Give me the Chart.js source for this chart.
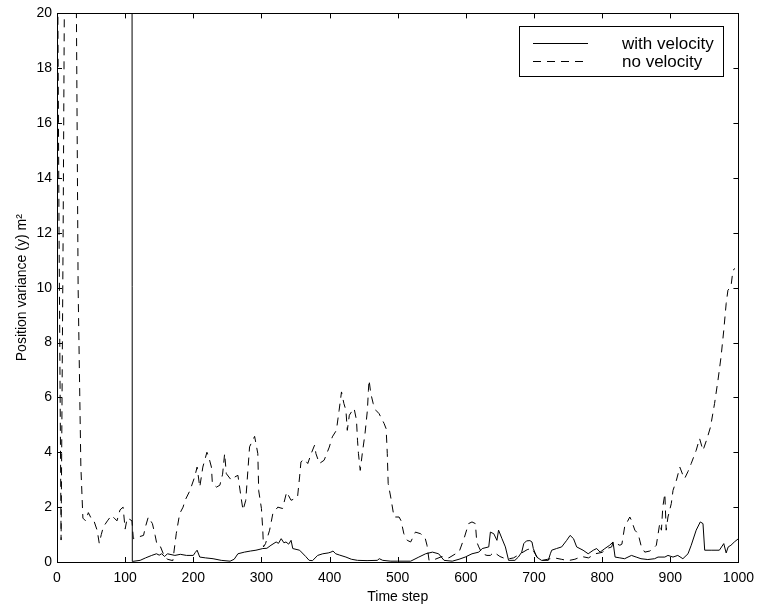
<!DOCTYPE html>
<html>
<head>
<meta charset="utf-8">
<script src="https://cdn.jsdelivr.net/npm/chart.js@4/dist/chart.umd.min.js"></script>
<style>
  html, body { margin: 0; padding: 0; background: #fff; }
  #wrap { width: 762px; height: 606px; }
</style>
</head>
<body>
<div id="wrap"><canvas id="varianceChart"></canvas></div>
<script>
// axis ticks
const xTicks = [0, 100, 200, 300, 400, 500, 600, 700, 800, 900, 1000];
const yTicks = [0, 2, 4, 6, 8, 10, 12, 14, 16, 18, 20];

const seriesLabels = ['with velocity', 'no velocity'];

// "with velocity" (solid) - time step / variance
const withVelX = [110, 110.5, 122, 130, 139, 146, 150, 153.5, 158, 162, 173, 181, 190, 200, 203, 205.6, 209.5, 218, 229, 241,
  254, 260, 265.5, 275, 284, 292, 302, 308, 314, 321.6, 325, 329, 333, 336, 340, 343.5, 346, 356, 365, 370,
  375, 382.5, 390, 398, 402, 405, 409, 415, 424, 432, 441, 455, 470, 473, 478, 490, 500, 519, 531, 541,
  551, 560, 568, 580, 590, 599, 609, 619, 624, 633.6, 636, 641, 645.6, 648, 653, 658, 662.7, 672, 677, 682,
  685, 689, 694, 697, 699, 704, 711, 721, 724, 726, 733, 740.6, 748, 753, 758, 762.6, 772, 779.5, 787, 792,
  797, 804, 811, 816, 819, 826, 833, 843, 850, 857, 867, 877, 882, 892, 896.6, 904, 911, 918.5, 926, 930.7,
  938, 944, 948, 950.5, 960, 972, 978.5, 982, 985, 989, 994, 1000];
const withVelY = [30, 0.02, 0.06, 0.15, 0.24, 0.3, 0.25, 0.3, 0.2, 0.3, 0.24, 0.28, 0.24, 0.24, 0.35, 0.43, 0.18, 0.15, 0.12, 0.06,
  0.03, 0.1, 0.3, 0.36, 0.4, 0.43, 0.49, 0.5, 0.61, 0.73, 0.68, 0.85, 0.7, 0.73, 0.65, 0.79, 0.49, 0.43, 0.2, 0.06,
  0.05, 0.24, 0.3, 0.33, 0.36, 0.4, 0.3, 0.25, 0.18, 0.1, 0.06, 0.05, 0.06, 0.12, 0.06, 0.03, 0.03, 0.03, 0.18, 0.3,
  0.36, 0.3, 0.06, 0.03, 0.1, 0.18, 0.3, 0.36, 0.49, 0.55, 1.09, 1.03, 0.79, 1.16, 0.85, 0.55, 0.06, 0.06, 0.18, 0.36,
  0.67, 0.77, 0.78, 0.73, 0.49, 0.18, 0.06, 0.06, 0.3, 0.43, 0.49, 0.55, 0.79, 0.97, 0.85, 0.55, 0.43, 0.3, 0.43, 0.49,
  0.36, 0.49, 0.61, 0.73, 0.18, 0.15, 0.12, 0.24, 0.18, 0.12, 0.09, 0.12, 0.18, 0.18, 0.24, 0.18, 0.24, 0.12, 0.3, 0.61,
  1.16, 1.46, 1.4, 0.43, 0.43, 0.43, 0.67, 0.33, 0.55, 0.61, 0.73, 0.85];

// "no velocity" (dashed)
const noVelX = [0, 3, 6, 9, 12, 27, 31, 35, 38, 42, 46, 50, 53.5, 59, 62, 65, 68, 74, 80, 84,
  88, 92.5, 97, 100, 103, 107, 110, 112, 118, 127, 130, 134, 140, 144, 147, 152, 156, 162, 170, 175,
  180, 185, 188, 195, 202, 205.6, 209.5, 214, 220, 223, 226.6, 228, 234, 239, 243, 246, 248.5, 256, 261, 265.5,
  270, 273, 277, 282.6, 290, 294.7, 296, 300, 302, 303, 306, 312, 316.7, 324, 331, 337, 343.5, 348, 353, 356,
  358, 363, 368, 373, 378, 380, 385, 392, 399.6, 404, 410, 414, 417.5, 421, 424, 426, 429, 433.6, 436, 439.5,
  441, 442.4, 445, 448, 452, 455.5, 457, 458, 460.5, 464, 468, 472.6, 480, 483, 484.7, 486, 489.7, 494.6, 502, 505,
  509, 514, 519, 526, 533.6, 540, 543, 546, 555, 565, 575, 585, 590, 598, 604, 609, 614, 616, 619, 624,
  631, 636, 641, 650, 660, 670, 680, 690, 697, 704, 711, 720, 730, 740, 750, 760, 770, 780, 790, 800,
  808, 814, 816, 826, 829, 833, 840.6, 843, 848, 852.8, 857.6, 862.6, 870, 875, 879.5, 884.5, 887, 889, 892, 894,
  896.6, 901.5, 904, 909, 914, 918, 921, 926, 930.7, 938, 943, 948, 954, 959, 965, 970, 974.5, 978.5, 982, 984.6,
  989, 992, 995];
const noVelY = [26, 12, 0.8, 12, 26, 26, 10, 3.5, 1.6, 1.5, 1.8, 1.6, 1.55, 1.15, 0.68, 1.0, 1.28, 1.5, 1.7, 1.6,
  1.5, 1.9, 2.0, 1.2, 1.6, 1.55, 1.5, 0.85, 0.9, 0.97, 1.3, 1.64, 1.4, 0.97, 0.6, 0.55, 0.3, 0.1, 0.05, 1.03,
  1.76, 2.0, 2.25, 2.6, 3.1, 3.46, 2.73, 3.46, 4.0, 3.8, 3.46, 2.86, 2.73, 2.8, 3.2, 3.95, 3.22, 2.98, 3.1, 3.16,
  2.37, 1.89, 2.25, 4.2, 4.58, 3.95, 2.6, 1.95, 1.16, 0.55, 0.67, 1.16, 1.76, 2.0, 1.95, 2.55, 2.25, 2.3, 2.37, 3.1,
  3.65, 3.75, 3.59, 3.95, 4.26, 3.95, 3.59, 3.71, 4.19, 4.56, 4.8, 5.53, 6.2, 5.78, 5.53, 4.8, 5.35, 5.53, 5.6, 5.17,
  4.44, 3.95, 3.34, 3.95, 4.68, 5.53, 6.26, 6.63, 6.14, 5.78, 5.53, 5.41, 5.05, 4.86, 3.95, 2.86, 2.37, 1.64, 1.64, 1.5,
  1.03, 0.79, 0.73, 1.09, 1.03, 0.9, 0.61, 0.06, 0.1, 0.2, 0.15, 0.3, 0.36, 0.91, 1.4, 1.46, 1.4, 0.73, 0.55, 0.3,
  0.24, 0.24, 0.36, 0.2, 0.1, 0.15, 0.3, 0.45, 0.5, 0.2, 0.05, 0.1, 0.15, 0.1, 0.05, 0.1, 0.2, 0.15, 0.3, 0.35,
  0.5, 0.55, 0.73, 0.61, 0.65, 1.28, 1.64, 1.52, 1.16, 1.03, 0.55, 0.36, 0.4, 0.49, 0.61, 1.4, 1.16, 2.0, 2.49, 1.16,
  1.64, 2.13, 2.61, 2.98, 3.46, 3.2, 3.04, 3.3, 3.59, 4.07, 4.5, 4.07, 4.5, 4.92, 5.78, 6.63, 7.48, 8.45, 9.42, 9.91,
  10.03, 10.64, 10.7];

const toPoints = (xs, ys) => xs.map((x, i) => ({ x: x, y: ys[i] }));

const FONT = "'Liberation Sans', Arial, Helvetica, sans-serif";

// matlab style box with inward tick marks on all four sides
const frameTicks = {
    id: 'frameTicks',
    afterDraw(chart) {
        const { ctx, chartArea: a, scales } = chart;
        const len = 5;
        ctx.save();
        ctx.strokeStyle = '#000';
        ctx.lineWidth = 1;
        ctx.beginPath();
        scales.x.ticks.forEach(t => {
            const px = Math.round(scales.x.getPixelForValue(t.value)) + 0.5;
            ctx.moveTo(px, a.bottom); ctx.lineTo(px, a.bottom - len);
            ctx.moveTo(px, a.top); ctx.lineTo(px, a.top + len);
        });
        scales.y.ticks.forEach(t => {
            const py = Math.round(scales.y.getPixelForValue(t.value)) + 0.5;
            ctx.moveTo(a.left, py); ctx.lineTo(a.left + len, py);
            ctx.moveTo(a.right, py); ctx.lineTo(a.right - len, py);
        });
        ctx.stroke();
        ctx.strokeRect(Math.round(a.left) + 0.5, Math.round(a.top) + 0.5,
            Math.round(a.right - a.left), Math.round(a.bottom - a.top));
        ctx.restore();
    }
};

// boxed legend in the upper right corner
const boxLegend = {
    id: 'boxLegend',
    afterDraw(chart) {
        const { ctx } = chart;
        const x0 = 519.5, y0 = 26.5, w = 204, h = 50;
        ctx.save();
        ctx.fillStyle = '#fff';
        ctx.fillRect(x0, y0, w, h);
        ctx.strokeStyle = '#000';
        ctx.lineWidth = 1;
        ctx.strokeRect(x0, y0, w, h);
        ctx.font = '17px ' + FONT;
        ctx.textBaseline = 'middle';
        ctx.fillStyle = '#000';
        const rows = [43, 61];
        chart.data.datasets.forEach((ds, i) => {
            ctx.setLineDash(ds.borderDash || []);
            ctx.beginPath();
            ctx.moveTo(533, rows[i] + 0.5);
            ctx.lineTo(588, rows[i] + 0.5);
            ctx.stroke();
            ctx.setLineDash([]);
            ctx.fillText(ds.label, 622, rows[i] + 1);
        });
        ctx.restore();
    }
};

new Chart('varianceChart', {
    type: 'line',
    data: {
        datasets: [{
            label: seriesLabels[0],
            data: toPoints(withVelX, withVelY),
            borderColor: '#000',
            borderWidth: 1,
            pointRadius: 0,
            tension: 0
        }, {
            label: seriesLabels[1],
            data: toPoints(noVelX, noVelY),
            borderColor: '#000',
            borderWidth: 1,
            borderDash: [8, 6],
            pointRadius: 0,
            tension: 0
        }]
    },
    options: {
        responsive: true,
        maintainAspectRatio: false,
        animation: false,
        layout: { padding: { left: 0, top: 13, right: 21, bottom: 0 } },
        plugins: {
            legend: { display: false },
            tooltip: { enabled: false }
        },
        scales: {
            x: {
                type: 'linear',
                min: 0,
                max: 1000,
                afterBuildTicks: s => { s.ticks = xTicks.map(v => ({ value: v })); },
                afterFit: s => { s.height = 44; },
                grid: { drawOnChartArea: false, drawTicks: false },
                border: { display: false },
                ticks: { color: '#000', padding: 8, maxRotation: 0, callback: v => String(v), font: { family: FONT, size: 14 } },
                title: { display: true, text: 'Time step', color: '#000', padding: { top: 0, bottom: 0 }, font: { family: FONT, size: 14 } }
            },
            y: {
                min: 0,
                max: 20,
                afterBuildTicks: s => { s.ticks = yTicks.map(v => ({ value: v })); },
                afterFit: s => { s.width = 57; },
                grid: { drawOnChartArea: false, drawTicks: false },
                border: { display: false },
                ticks: { color: '#000', padding: 5, callback: v => String(v), font: { family: FONT, size: 14 } },
                title: { display: true, text: 'Position variance (y) m²', color: '#000', padding: { top: 14, bottom: 0 }, font: { family: FONT, size: 14 } }
            }
        }
    },
    plugins: [frameTicks, boxLegend]
});
</script>
</body>
</html>
